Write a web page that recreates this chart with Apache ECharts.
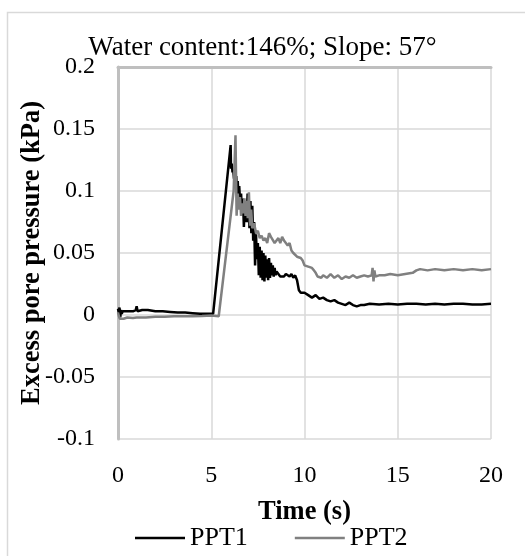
<!DOCTYPE html>
<html>
<head>
<meta charset="utf-8">
<script src="https://cdn.jsdelivr.net/npm/echarts@6/dist/echarts.min.js"></script>
<style>html,body{margin:0;padding:0;background:#fff}#c{width:525px;height:556px}</style>
</head>
<body>
<div id="c"></div>
<script>
const titleText = 'Water content:146%; Slope: 57°';
const seriesNames = ['PPT1', 'PPT2'];
const xTitle = 'Time (s)';
const yTitle = 'Excess pore pressure (kPa)';

const t1 = [0,0.04,0.08,0.12,0.16,0.2,0.25,0.3,0.4,0.5,0.6,0.8,0.95,1.0,1.05,1.1,1.3,1.6,2.0,2.4,2.8,3.2,3.6,4.0,4.4,4.8,5.1,
6.04,6.06,6.1,6.14,6.18,6.22,6.26,6.3,6.34,6.38,6.42,6.46,6.5,6.55,6.6,6.65,6.7,6.75,6.8,6.85,6.9,6.95,7.0,7.05,7.1,7.15,7.2,7.25,7.3,7.35,7.4,7.45,7.5,7.55,7.6,7.65,7.7,7.75,7.8,7.85,7.9,7.95,8.0,8.05,8.1,8.15,8.2,8.25,8.3,8.35,8.4,8.45,8.5,8.6,8.7,8.8,8.9,9.0,9.1,9.2,9.3,9.4,9.5,9.6,9.7,9.8,9.9,10.0,10.2,10.4,10.6,10.8,11.0,11.2,11.4,11.6,11.8,12.0,12.2,12.4,12.6,12.8,12.9,13.0,13.2,13.5,14,14.5,15,15.5,16,16.5,17,17.5,18,18.5,19,19.5,20];
const v1 = [0.005,0.002,0.006,-0.002,0.004,0.001,0.003,0.002,0.003,0.002,0.003,0.003,0.004,0.007,0.003,0.004,0.004,0.004,0.003,0.003,0.0025,0.002,0.002,0.0015,0.001,0.001,0.001,
0.137,0.118,0.122,0.115,0.117,0.110,0.114,0.108,0.112,0.100,0.108,0.095,0.104,0.090,0.098,0.080,0.094,0.071,0.090,0.082,0.075,0.098,0.085,0.070,0.092,0.066,0.088,0.060,0.075,0.040,0.065,0.045,0.058,0.032,0.055,0.030,0.052,0.028,0.050,0.027,0.048,0.030,0.045,0.028,0.046,0.030,0.042,0.032,0.040,0.031,0.038,0.032,0.035,0.033,0.031,0.032,0.031,0.033,0.034,0.031,0.033,0.030,0.032,0.028,0.020,0.018,0.017,0.018,0.016,0.014,0.016,0.013,0.014,0.012,0.011,0.012,0.010,0.009,0.008,0.010,0.008,0.007,0.006,0.008,0.008,0.009,0.0085,0.009,0.0085,0.009,0.009,0.0085,0.009,0.0085,0.009,0.009,0.0085,0.0085,0.009];

const t2 = [0,0.05,0.1,0.2,0.3,0.5,0.8,1.0,1.5,2.0,2.5,3.0,3.5,4.0,4.5,5.0,5.4,
6.2,6.3,6.36,6.42,6.48,6.54,6.6,6.66,6.72,6.78,6.84,6.9,6.96,7.02,7.08,7.14,7.2,7.3,7.4,7.5,7.6,7.7,7.8,7.9,8.0,8.1,8.2,8.3,8.4,8.5,8.6,8.7,8.8,8.9,9.0,9.1,9.2,9.3,9.4,9.5,9.6,9.7,9.8,9.9,10.0,10.1,10.2,10.3,10.4,10.5,10.6,10.7,10.8,10.9,11.0,11.2,11.4,11.6,11.8,12.0,12.2,12.4,12.6,12.8,13.0,13.2,13.4,13.6,13.65,13.7,13.75,13.8,14.0,14.3,14.6,15.0,15.4,15.8,16.0,16.2,16.6,17,17.5,18,18.5,19,19.5,20];
const v2 = [0.002,-0.001,-0.003,-0.002,-0.003,-0.002,-0.0025,-0.002,-0.002,-0.0015,-0.0015,-0.001,-0.001,-0.001,-0.0008,-0.0005,-0.001,
0.100,0.145,0.080,0.098,0.085,0.095,0.080,0.090,0.082,0.094,0.080,0.092,0.078,0.099,0.072,0.085,0.070,0.074,0.066,0.068,0.062,0.064,0.060,0.062,0.058,0.066,0.063,0.064,0.058,0.060,0.062,0.058,0.063,0.060,0.059,0.056,0.058,0.052,0.050,0.049,0.047,0.048,0.046,0.044,0.040,0.041,0.039,0.040,0.038,0.036,0.034,0.031,0.031,0.030,0.032,0.030,0.033,0.030,0.032,0.029,0.031,0.030,0.032,0.030,0.031,0.032,0.031,0.032,0.038,0.027,0.036,0.031,0.032,0.032,0.033,0.032,0.033,0.034,0.036,0.037,0.036,0.037,0.036,0.037,0.036,0.037,0.036,0.037];

const xTicks = [0, 5, 10, 15, 20];
const yTicks = [-0.1, -0.05, 0, 0.05, 0.1, 0.15, 0.2];

const font = "'Liberation Serif', 'Times New Roman', serif";
const chart = echarts.init(document.getElementById('c'));
const pair = (t, v) => t.map((x, i) => [x, v[i]]);

chart.setOption({
  animation: false,
  backgroundColor: '#fff',
  graphic: [{
    type: 'rect', left: 5, top: 10, z: -10,
    shape: { width: 600, height: 600 },
    style: { fill: 'none', stroke: '#d9d9d9', lineWidth: 1.5 }
  }],
  title: {
    text: titleText, left: 'center', top: 29,
    textStyle: { fontFamily: font, fontSize: 27, fontWeight: 'normal', color: '#000' }
  },
  legend: {
    data: seriesNames, left: 130, top: 520,
    itemWidth: 50, itemHeight: 2.5, itemGap: 47, icon: 'rect',
    textStyle: { fontFamily: font, fontSize: 26, color: '#000' }
  },
  grid: { left: 118, right: 34, top: 67, bottom: 117 },
  xAxis: [{
    type: 'value', min: xTicks[0], max: xTicks[xTicks.length - 1], interval: 5,
    name: xTitle, nameLocation: 'middle', nameGap: 60, nameMoveOverlap: false,
    nameTextStyle: { fontFamily: font, fontSize: 26.5, fontWeight: 'bold', color: '#000' },
    axisLine: { show: false },
    axisTick: { show: false },
    axisLabel: { fontFamily: font, fontSize: 24, color: '#000', margin: 25 },
    splitLine: { show: true, lineStyle: { color: '#d9d9d9', width: 1.5 } }
  }, {
    type: 'value', min: xTicks[0], max: xTicks[xTicks.length - 1], position: 'top',
    axisLine: { show: true, onZero: true, lineStyle: { color: '#bfbfbf', width: 3 } },
    axisTick: { show: false }, axisLabel: { show: false }, splitLine: { show: false }
  }],
  yAxis: {
    type: 'value', min: yTicks[0], max: yTicks[yTicks.length - 1], interval: 0.05,
    name: yTitle, nameLocation: 'middle', nameGap: 72, nameMoveOverlap: false,
    nameTextStyle: { fontFamily: font, fontSize: 26.5, fontWeight: 'bold', color: '#000' },
    axisLine: { show: true, lineStyle: { color: '#bfbfbf', width: 3 } },
    axisTick: { show: false },
    axisLabel: { fontFamily: font, fontSize: 24, color: '#000', margin: 23,
      formatter: v => String(+v.toFixed(2)) },
    splitLine: { show: true, lineStyle: { color: '#d9d9d9', width: 1.5 } }
  },
  series: [{
    name: seriesNames[0], type: 'line', data: pair(t1, v1), xAxisIndex: 0,
    showSymbol: false, symbol: 'none', color: '#000000',
    lineStyle: { color: '#000000', width: 2.5 }
  }, {
    name: seriesNames[1], type: 'line', data: pair(t2, v2), xAxisIndex: 0,
    showSymbol: false, symbol: 'none', color: '#808080',
    lineStyle: { color: '#808080', width: 2.5 }
  }]
});
</script>
</body>
</html>
